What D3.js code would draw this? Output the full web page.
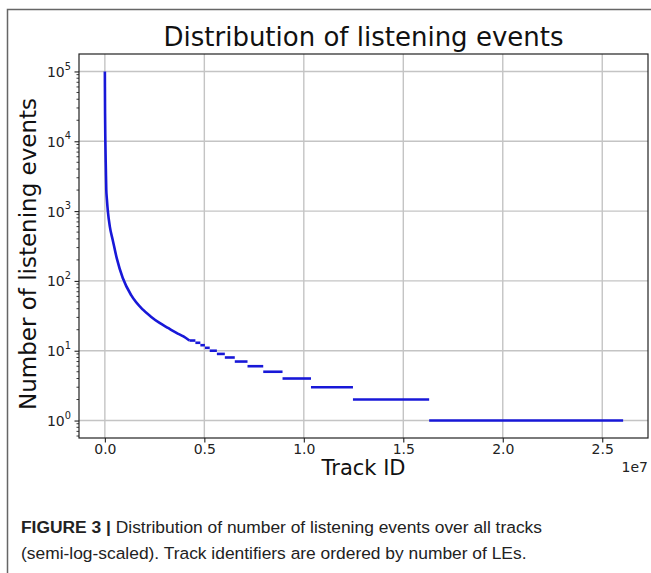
<!DOCTYPE html>
<html>
<head>
<meta charset="utf-8">
<script src="https://cdn.jsdelivr.net/npm/d3@7"></script>
<style>
  html, body { margin: 0; padding: 0; background: #ffffff; }
  svg { display: block; }
</style>
</head>
<body>
<svg id="chart" width="651" height="573"></svg>
<script>
// ---- data ----
const headTrackIds = [0, 3000, 10000, 25000, 50000, 70000, 100000, 150000, 250000, 400000, 600000, 900000, 1330000, 1900000, 2300000, 2750000, 3200000, 3600000, 3950000, 4250000];
const headCounts   = [100000, 60000, 25000, 10000, 4000, 2050, 1500, 1000, 600, 380, 210, 110, 62, 39, 31, 25, 21, 18, 16, 14];

const stepCounts = [14, 13, 12, 11, 10, 9, 8, 7, 6, 5, 4, 3, 2, 1];
const stepStarts = [4250000, 4550000, 4800000, 5030000, 5270000, 5630000, 6030000, 6530000, 7170000, 7960000, 8930000, 10360000, 12470000, 16300000];
const lastTrackId = 26050000;

const xTickValues = [0, 5000000, 10000000, 15000000, 20000000, 25000000];
const xTickLabels = ["0.0", "0.5", "1.0", "1.5", "2.0", "2.5"];
const yTickValues = [1, 10, 100, 1000, 10000, 100000];
const yTickExponents = ["0", "1", "2", "3", "4", "5"];

const titleText = "Distribution of listening events";
const xLabelText = "Track ID";
const yLabelText = "Number of listening events";
const xOffsetText = "1e7";
const captionBold = "FIGURE 3 |";
const captionLine1 = " Distribution of number of listening events over all tracks";
const captionLine2 = "(semi-log-scaled). Track identifiers are ordered by number of LEs.";

// ---- layout ----
const svg = d3.select("#chart");
const plot = { left: 79, right: 648, top: 54, bottom: 438 };
const lineColor = "#1818d8";
const gridColor = "#c4c4c4";
const axisColor = "#222222";
const tickFont = "DejaVu Sans, sans-serif";
const tickSize = 14;

const x = d3.scaleLinear().domain([-1300000, 27300000]).range([plot.left, plot.right]);
const y = d3.scaleLog().domain([Math.pow(10, -0.25), Math.pow(10, 5.25)]).range([plot.bottom, plot.top]);

// outer frame (figure border)
svg.append("path")
  .attr("d", "M7.5,573 L7.5,9.5 L651,9.5")
  .attr("fill", "none").attr("stroke", "#666").attr("stroke-width", 1.5);

// grid
const grid = svg.append("g");
grid.selectAll("line.gx").data(xTickValues).enter().append("line")
  .attr("x1", d => x(d)).attr("x2", d => x(d))
  .attr("y1", plot.top).attr("y2", plot.bottom)
  .attr("stroke", gridColor).attr("stroke-width", 1.4);
grid.selectAll("line.gy").data(yTickValues).enter().append("line")
  .attr("x1", plot.left).attr("x2", plot.right)
  .attr("y1", d => y(d)).attr("y2", d => y(d))
  .attr("stroke", gridColor).attr("stroke-width", 1.4);

// data: smooth head
const line = d3.line().x(d => x(d[0])).y(d => y(d[1])).curve(d3.curveMonotoneX);
const headPts = headTrackIds.map((t, i) => [t, headCounts[i]]);
svg.append("path").datum(headPts)
  .attr("d", line)
  .attr("fill", "none").attr("stroke", lineColor).attr("stroke-width", 2.6)
  .attr("stroke-linejoin", "round");

// data: steps
const steps = stepCounts.map((c, i) => ({ c, s: stepStarts[i], e: (i + 1 < stepStarts.length ? stepStarts[i + 1] : lastTrackId) }));
svg.append("g").selectAll("line").data(steps).enter().append("line")
  .attr("x1", d => x(d.s)).attr("x2", d => x(d.e))
  .attr("y1", d => y(d.c)).attr("y2", d => y(d.c))
  .attr("stroke", lineColor).attr("stroke-width", 2.6);

// axes
const xAxis = d3.axisBottom(x).tickValues(xTickValues)
  .tickFormat((d, i) => xTickLabels[i]).tickSize(4.5).tickPadding(2).tickSizeOuter(0);
const gx = svg.append("g").attr("transform", `translate(0,${plot.bottom})`).call(xAxis);
gx.select(".domain").remove();
gx.selectAll(".tick line").attr("stroke", axisColor).attr("stroke-width", 1.1);
gx.selectAll(".tick text").attr("font-family", tickFont).attr("font-size", tickSize).attr("fill", "#222");

const yAxis = d3.axisLeft(y).tickValues(yTickValues).tickFormat("").tickSize(4.5).tickSizeOuter(0);
const gy = svg.append("g").attr("transform", `translate(${plot.left},0)`).call(yAxis);
gy.select(".domain").remove();
gy.selectAll(".tick line").attr("stroke", axisColor).attr("stroke-width", 1.1);
gy.selectAll(".tick").each(function (d, i) {
  const t = d3.select(this).append("text")
    .attr("x", -8).attr("dy", "0.36em")
    .attr("text-anchor", "end")
    .attr("font-family", tickFont).attr("font-size", tickSize).attr("fill", "#222");
  t.append("tspan").text("10");
  t.append("tspan").attr("font-size", 9.8).attr("dy", "-0.75em").text(yTickExponents[i]);
});

// minor log ticks
const minor = [];
for (let e = -1; e <= 5; e++) {
  for (let m = 2; m <= 9; m++) {
    const v = m * Math.pow(10, e);
    if (v >= y.domain()[0] && v <= y.domain()[1]) minor.push(v);
  }
}
svg.append("g").selectAll("line").data(minor).enter().append("line")
  .attr("x1", plot.left - 2.5).attr("x2", plot.left)
  .attr("y1", d => y(d)).attr("y2", d => y(d))
  .attr("stroke", axisColor).attr("stroke-width", 0.9);

// spines
svg.append("rect")
  .attr("x", plot.left).attr("y", plot.top)
  .attr("width", plot.right - plot.left).attr("height", plot.bottom - plot.top)
  .attr("fill", "none").attr("stroke", axisColor).attr("stroke-width", 1.2);

// offset label
svg.append("text").attr("x", plot.right).attr("y", 472)
  .attr("text-anchor", "end").attr("font-family", tickFont).attr("font-size", tickSize).attr("fill", "#222")
  .text(xOffsetText);

// title
svg.append("text").attr("x", (plot.left + plot.right) / 2).attr("y", 46)
  .attr("text-anchor", "middle").attr("font-family", tickFont).attr("font-size", 26).attr("fill", "#111")
  .text(titleText);

// axis labels
svg.append("text").attr("x", (plot.left + plot.right) / 2).attr("y", 475)
  .attr("text-anchor", "middle").attr("font-family", tickFont).attr("font-size", 21).attr("fill", "#111")
  .text(xLabelText);
svg.append("text")
  .attr("transform", `translate(36,${(plot.top + plot.bottom) / 2 + 8}) rotate(-90)`)
  .attr("text-anchor", "middle").attr("font-family", tickFont).attr("font-size", 23).attr("fill", "#111")
  .text(yLabelText);

// caption
const capFont = "'Liberation Sans Narrow', 'Arial Narrow', 'Liberation Sans', Arial, sans-serif";
const c1 = svg.append("text").attr("x", 21).attr("y", 533)
  .attr("font-family", capFont).attr("font-size", 17.4).attr("fill", "#222");
c1.append("tspan").attr("font-weight", "bold").text(captionBold);
c1.append("tspan").text(captionLine1);
svg.append("text").attr("x", 21).attr("y", 559)
  .attr("font-family", capFont).attr("font-size", 17.4).attr("fill", "#222")
  .text(captionLine2);
</script>
</body>
</html>
